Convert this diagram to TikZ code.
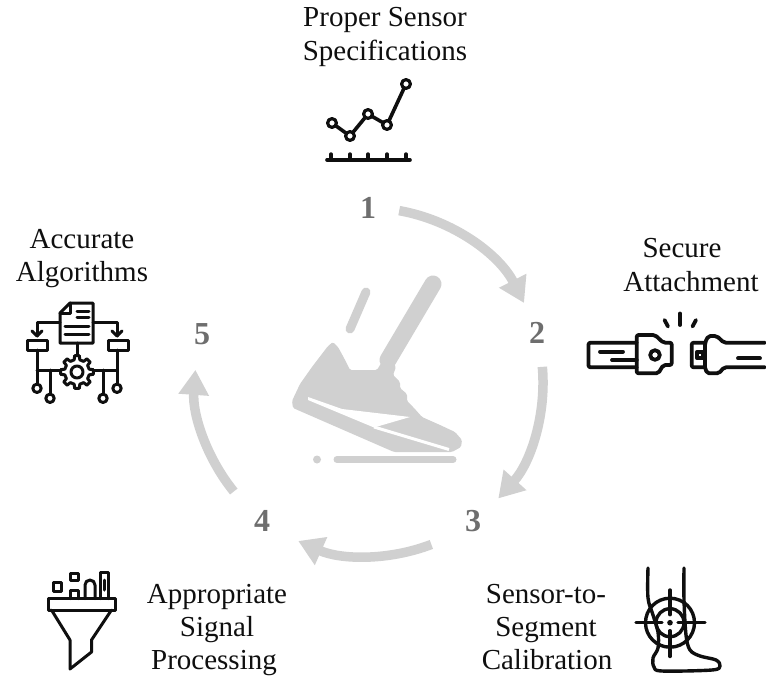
\documentclass[tikz,border=0pt]{standalone}
\usepackage{fontspec}
\setmainfont{Liberation Serif}
\usetikzlibrary{arrows.meta}
\definecolor{arrowgray}{RGB}{208,208,208}
\definecolor{shoegray}{RGB}{208,208,208}
\definecolor{numgray}{RGB}{110,110,110}
\definecolor{ink}{RGB}{15,15,15}

\begin{document}
\begin{tikzpicture}[x=1pt,y=-1pt,
  lbl/.style={anchor=base, inner sep=0pt, font=\fontsize{29}{33}\selectfont, text=ink},
  num/.style={anchor=center, inner sep=0pt, font=\fontsize{32}{32}\selectfont\bfseries, text=numgray},
  cyc/.style={arrowgray, line width=9.5pt, -{Triangle[width=29pt,length=25pt]}},
  icon/.style={ink, line width=3.3pt, line cap=round, line join=round},
  shoe/.style={fill=shoegray, draw=none},
]
\useasboundingbox (0,0) rectangle (766,680);
\fill[white] (0,0) rectangle (766,680);

% ---------- cycle of arrows ----------
\coordinate (ctr) at (369,382);
\coordinate (a1s) at ([shift={(-80:174)}]ctr);
\coordinate (a2s) at ([shift={(-5:174)}]ctr);
\coordinate (a3s) at ([shift={(69:174)}]ctr);
\coordinate (a4s) at ([shift={(141:174)}]ctr);
\draw[cyc] (a1s) arc[start angle=-80, end angle=-27, radius=174];
\draw[cyc] (a2s) arc[start angle=-5, end angle=42, radius=174];
\draw[cyc] (a3s) arc[start angle=69, end angle=114, radius=174];
\draw[cyc] (a4s) arc[start angle=141, end angle=184, radius=174];

% ---------- step numbers ----------
\node[num] (n1) at (368,208) {1};
\node[num] (n2) at (537,333) {2};
\node[num] (n3) at (473,521) {3};
\node[num] (n4) at (262,521) {4};
\node[num] (n5) at (202,334) {5};

% ---------- central shoe ----------
\draw[shoegray, line width=17pt, line cap=round] (433,284) -- (388,360);
\draw[shoegray, line width=9pt, line cap=round] (366,292) -- (350,329);
\fill[shoe, rounded corners=1.5pt]
  (333,342) -- (338,347) -- (344,358) -- (350,370) -- (377,370) -- (383,360)
  -- (390,358) -- (396,367) -- (393,375) -- (400,382) -- (400,388) -- (407,394)
  -- (407,401) -- (414,408) -- (422,417) -- (440,425) -- (455,432) -- (462,440)
  -- (461,447) -- (452,452) -- (394,452) -- (293,408) -- (292,401) -- (300,384)
  -- (312,367) -- (328,346) -- cycle;
\fill[white] (308,397) -- (342,409) -- (410,417) -- (374,427.5) -- (308,400) -- cycle;
\draw[white, line width=3pt] (374,427) -- (449,449.5);
\draw[shoegray, line width=7pt, line cap=round] (337,459.5) -- (453,459.5);
\fill[shoegray] (317,459.5) circle[radius=4pt];

% ---------- labels ----------
\node[lbl] (t1a) at (385,27) {Proper Sensor};
\node[lbl] (t1b) at (385,60) {Specifications};
\node[lbl] (t2a) at (682,257) {Secure};
\node[lbl] (t2b) at (691,291) {Attachment};
\node[lbl] (t3a) at (546,603) {Sensor-to-};
\node[lbl] (t3b) at (546,636) {Segment};
\node[lbl] (t3c) at (547,669) {Calibration};
\node[lbl] (t4a) at (217,603) {Appropriate};
\node[lbl] (t4b) at (217,636) {Signal};
\node[lbl] (t4c) at (214,669) {Processing};
\node[lbl] (t5a) at (82,248) {Accurate};
\node[lbl] (t5b) at (82,281) {Algorithms};

% ---------- chart icon ----------
\draw[icon, line width=3.6pt] (327,160) -- (410,160);
\foreach \tx in {331,350,368,387,406} \draw[icon, line width=3.4pt] (\tx,160) -- (\tx,154);
\draw[icon, line width=3.6pt] (332,123) -- (350,136) -- (368,114) -- (387,125) -- (406,84);
\foreach \px/\py in {332/123,350/136,368/114,387/125,406/84}
  \draw[icon, line width=3.2pt, fill=white] (\px,\py) circle[radius=4.4pt];

% ---------- belt buckle icon ----------
\begin{scope}[icon, line width=3.8pt]
  \draw (664.5,320) -- (668,326.5);
  \draw (680,313.5) -- (680,325);
  \draw (696,320) -- (692.5,326.5);
  % left strap
  \draw[rounded corners=2pt] (636.7,342.7) -- (588.5,342.7) -- (588.5,367.3) -- (636.7,367.3);
  \draw (600,351.7) -- (623,351.7);
  \draw (612,360) -- (636.7,360);
  % buckle
  \draw[rounded corners=2pt] (636.7,335) -- (655,335) -- (663.3,342.7) -- (671.7,342.7)
    -- (671.7,365) -- (663.3,365) -- (658.3,373.3) -- (636.7,373.3) -- cycle;
  \draw (655,355) circle[radius=4.8pt];
  % latch tab
  \draw[rounded corners=2pt] (705,342.7) -- (691.7,342.7) -- (691.7,367.3) -- (705,367.3);
  \draw (697,351.7) rectangle (703.3,358.3);
  % right strap
  \draw[rounded corners=2pt] (705,367.3) -- (705,342.7) -- (708.3,336) -- (716.7,336) -- (724,342.7) -- (765,342.7);
  \draw[rounded corners=2pt] (705,367.3) -- (707,373.3) -- (719,373.3) -- (724,367.3) -- (765,367.3);
  \draw (738,358.3) -- (760,358.3);
\end{scope}

% ---------- algorithm icon ----------
\begin{scope}[icon, line width=3pt]
  \draw (60,313) -- (60,343) -- (93,343) -- (93,303) -- (70,303) -- cycle;
  \draw (70,303) -- (70,313) -- (60,313);
  \draw (77,311) -- (89,311);
  \draw (77,317.5) -- (89,317.5);
  \draw (65,326) -- (89,326);
  \draw (65,334) -- (89,334);
  \draw (60,322) -- (37,322) -- (37,336);
  \draw (32,331) -- (37,336) -- (42,331);
  \draw (93,322) -- (117,322) -- (117,336);
  \draw (112,331) -- (117,336) -- (122,331);
  \draw (27,340) rectangle (47,350);
  \draw (108,340) rectangle (128,350);
  \draw (77,343) -- (77,355);
  \draw[shift={(77,372)}] (-13:12.5)
    \foreach \a in {0,45,...,315} { -- ({\a-8}:16.5) -- ({\a+8}:16.5) -- ({\a+13}:12.5) -- ({\a+32}:12.5) } -- cycle;
  \draw (77,372) circle[radius=6pt];
  \draw (37,350) -- (37,384);
  \draw (37,370) -- (60,370);
  \draw (50,370) -- (50,394);
  \draw (117,350) -- (117,384);
  \draw (94,370) -- (117,370);
  \draw (103,370) -- (103,394);
  \draw (37,388.3) circle[radius=4.2pt];
  \draw (50,398.3) circle[radius=4.2pt];
  \draw (103,398.3) circle[radius=4.2pt];
  \draw (117,388.3) circle[radius=4.2pt];
\end{scope}

% ---------- funnel icon ----------
\begin{scope}[icon, line width=3pt]
  \draw (48.5,598.5) rectangle (115,610);
  \draw (51.5,610) -- (70,640) -- (70,669) -- (91.5,652) -- (91.5,640) -- (111.5,610);
  \draw (53.5,582) rectangle (61.5,591.5);
  \draw (70,573.5) rectangle (78,580);
  \draw (70,598.5) -- (70,590) -- (78,590) -- (78,598.5);
  \draw (85,598.5) -- (85,585) arc[start angle=180, end angle=360, radius=5] -- (95,598.5);
  \draw (100,598.5) -- (100,572) -- (108,572) -- (108,598.5);
  \draw (104,580) -- (104,590);
\end{scope}

% ---------- calibration (leg and target) icon ----------
\begin{scope}[icon, line width=3.4pt]
  \draw plot[smooth, tension=0.55] coordinates {
    (648,568) (648,598) (653,615) (658,632) (658,648) (653,658) (654,667) (662,671)
    (712,670) (720,666) (716,660) (700,656) (690,650) (686,635) (684,600) (684,568)};
  \draw (670,622.7) circle[radius=24.5pt];
  \draw (670,622.7) circle[radius=14pt];
  \draw (636,622.7) -- (662,622.7);
  \draw (678,622.7) -- (705,622.7);
  \draw (670,590) -- (670,614.7);
  \draw (670,630.7) -- (670,656.5);
  \fill (670,622.7) circle[radius=2.8pt];
\end{scope}

\end{tikzpicture}
\end{document}
